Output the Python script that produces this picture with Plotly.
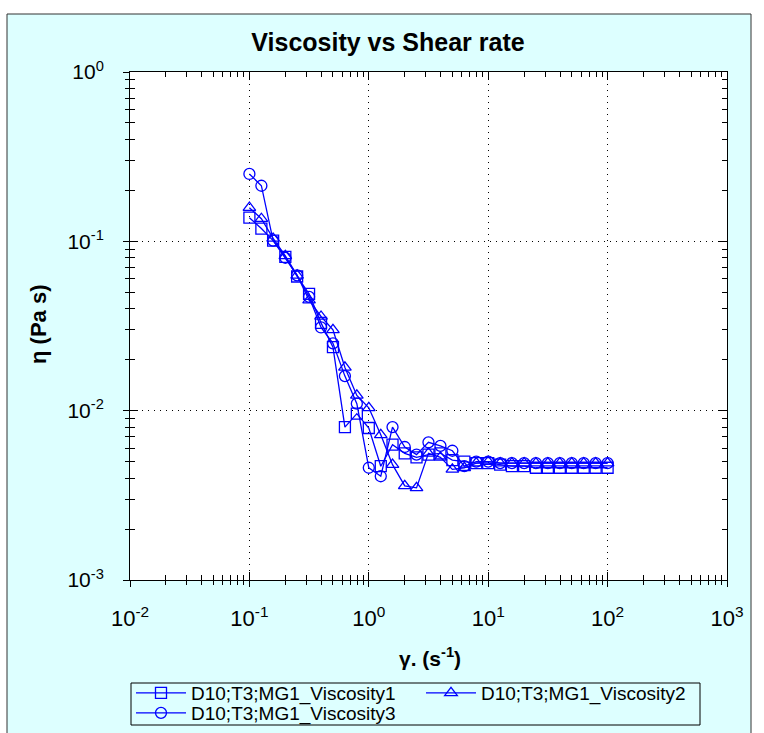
import plotly.graph_objects as go

# ---------------- data ----------------
shear_rate = [0.1, 0.126, 0.158, 0.2, 0.251, 0.316, 0.398, 0.501, 0.631, 0.794,
              1.0, 1.26, 1.58, 2.0, 2.51, 3.16, 3.98, 5.01, 6.31, 7.94,
              10.0, 12.6, 15.8, 20.0, 25.1, 31.6, 39.8, 50.1, 63.1, 79.4, 100.0]

visc1 = [0.138, 0.119, 0.101, 0.081, 0.062, 0.049, 0.033, 0.0237, 0.0080, 0.0096,
         0.0079, 0.0047, 0.0063, 0.0056, 0.0053, 0.0055, 0.0056, 0.0051, 0.0050, 0.0049,
         0.0049, 0.0048, 0.0047, 0.0047, 0.0046, 0.0046, 0.0046, 0.0046, 0.0046, 0.0046, 0.0046]

visc2 = [0.158, 0.136, 0.104, 0.082, 0.063, 0.045, 0.036, 0.030, 0.018, 0.0123,
         0.0104, 0.0072, 0.0048, 0.0036, 0.0035, 0.0056, 0.0053, 0.0045, 0.0046, 0.0049,
         0.0050, 0.0049, 0.0049, 0.0049, 0.0049, 0.0049, 0.0049, 0.0049, 0.0049, 0.0049, 0.0049]

visc3 = [0.25, 0.213, 0.101, 0.080, 0.063, 0.047, 0.031, 0.025, 0.016, 0.011,
         0.0046, 0.0041, 0.0080, 0.0061, 0.0055, 0.0065, 0.0062, 0.0058, 0.0047, 0.0050,
         0.0050, 0.0049, 0.0049, 0.0049, 0.0049, 0.0049, 0.0049, 0.0049, 0.0049, 0.0049, 0.0049]

series_names = ["D10;T3;MG1_Viscosity1", "D10;T3;MG1_Viscosity2", "D10;T3;MG1_Viscosity3"]
series_symbols = ["square-open", "triangle-up-open", "circle-open"]
series_legends = ["legend", "legend", "legend2"]

x_major = [0.01, 0.1, 1, 10, 100, 1000]
x_labels = ["10<sup>-2</sup>", "10<sup>-1</sup>", "10<sup>0</sup>",
            "10<sup>1</sup>", "10<sup>2</sup>", "10<sup>3</sup>"]
y_major = [0.001, 0.01, 0.1, 1]
y_labels = ["10<sup>-3</sup>", "10<sup>-2</sup>", "10<sup>-1</sup>", "10<sup>0</sup>"]

x_minor = [m * d for d in [0.01, 0.1, 1, 10, 100] for m in range(2, 10)]
y_minor = [m * d for d in [0.001, 0.01, 0.1] for m in range(2, 10)]

# ---------------- geometry helpers (pixels -> paper) ----------------
W, H = 764, 733
L, R, T, B = 130, 727, 72, 580
def px(x):
    return (x - L) / (R - L)
def py(y):
    return (B - y) / (B - T)

BLUE = "#0000FF"
CYAN = "#DDFFFF"
FONT = "Liberation Sans, Arial, sans-serif"

fig = go.Figure()
for name, sym, vals, lg in zip(series_names, series_symbols, [visc1, visc2, visc3],
                               series_legends):
    fig.add_trace(go.Scatter(
        x=shear_rate, y=vals, name=name, mode="lines+markers", legend=lg,
        line=dict(color=BLUE, width=1.3),
        marker=dict(symbol=sym, size=11, color=BLUE, line=dict(color=BLUE, width=1.3)),
    ))

# dummy trace for overlay axes (inside ticks)
fig.add_trace(go.Scatter(x=[], y=[], xaxis="x2", yaxis="y2", showlegend=False,
                         hoverinfo="skip"))

axis_common = dict(type="log", showline=True, linecolor="black", linewidth=1,
                   tickcolor="black", zeroline=False)

legend_common = dict(orientation="h", xref="container", yref="container",
                     xanchor="left", yanchor="middle", bgcolor="rgba(0,0,0,0)",
                     borderwidth=0, font=dict(size=19, family=FONT, color="black"),
                     entrywidth=225, tracegroupgap=0, itemwidth=50)

fig.update_layout(
    width=W, height=H, autosize=False,
    margin=dict(l=L, r=W - R, t=T, b=H - B, autoexpand=False),
    paper_bgcolor=CYAN, plot_bgcolor="white",
    font=dict(family=FONT, color="black", size=16),
    title=dict(text="<b>Viscosity vs Shear rate</b>", x=388 / W, xref="container",
               xanchor="center", y=1 - 42 / H, yref="container", yanchor="middle",
               font=dict(size=25, family=FONT, color="black")),
    xaxis=dict(**axis_common, range=[-2, 3], tickvals=x_major, ticktext=x_labels,
               ticks="outside", ticklen=6, showgrid=True, gridcolor="black",
               griddash="1px,5px", gridwidth=1, mirror=False, ticklabelstandoff=13,
               minor=dict(tickvals=x_minor, ticks="outside", ticklen=4,
                          tickcolor="black", showgrid=False),
               tickfont=dict(size=22)),
    yaxis=dict(**axis_common, range=[-3, 0], tickvals=y_major, ticktext=y_labels,
               ticks="outside", ticklen=6, showgrid=True, gridcolor="black",
               griddash="1px,5px", gridwidth=1, mirror=False, ticklabelstandoff=15,
               minor=dict(tickvals=y_minor, ticks="outside", ticklen=4,
                          tickcolor="black", showgrid=False),
               tickfont=dict(size=21)),
    xaxis2=dict(**axis_common, range=[-2, 3], overlaying="x", anchor="y2", side="bottom",
                tickvals=x_major, ticks="inside", ticklen=8, showticklabels=False,
                showgrid=False, mirror="ticks",
                minor=dict(tickvals=x_minor, ticks="inside", ticklen=5,
                           tickcolor="black", showgrid=False)),
    yaxis2=dict(**axis_common, range=[-3, 0], overlaying="y", anchor="x2", side="left",
                tickvals=y_major, ticks="inside", ticklen=8, showticklabels=False,
                showgrid=False, mirror="ticks",
                minor=dict(tickvals=y_minor, ticks="inside", ticklen=5,
                           tickcolor="black", showgrid=False)),
    legend=dict(**legend_common, x=131 / W, y=1 - 693 / H),
    legend2=dict(**legend_common, x=131 / W, y=1 - 713 / H),
    showlegend=True,
)

# legend frame
fig.add_shape(type="rect", xref="paper", yref="paper", x0=px(131), x1=px(700),
              y0=py(725), y1=py(683), fillcolor=CYAN,
              line=dict(color="black", width=1), layer="below")

# axis titles
fig.add_annotation(text="<b>γ. (s<sup>-1</sup>)</b>", x=px(430), y=py(657),
                   xref="paper", yref="paper", showarrow=False,
                   xanchor="center", yanchor="middle", font=dict(size=21, family=FONT))
fig.add_annotation(text="<b>η (Pa s)</b>", x=px(38), y=py(325), textangle=-90,
                   xref="paper", yref="paper", showarrow=False,
                   xanchor="center", yanchor="middle", font=dict(size=22, family=FONT))

# outer frame: white strips + border
for (x0, y0, x1, y1) in [(0, 0, 7, H + 10), (0, 0, W, 14), (751, 0, W + 10, H + 10)]:
    fig.add_shape(type="rect", xref="paper", yref="paper", x0=px(x0), x1=px(x1),
                  y0=py(y1), y1=py(y0), fillcolor="white", line=dict(width=0),
                  layer="below")
fig.add_shape(type="rect", xref="paper", yref="paper", x0=px(7), x1=px(751),
              y0=py(H + 10), y1=py(14), line=dict(color="#333333", width=1),
              fillcolor="rgba(0,0,0,0)", layer="below")

fig.write_html("out.html")
